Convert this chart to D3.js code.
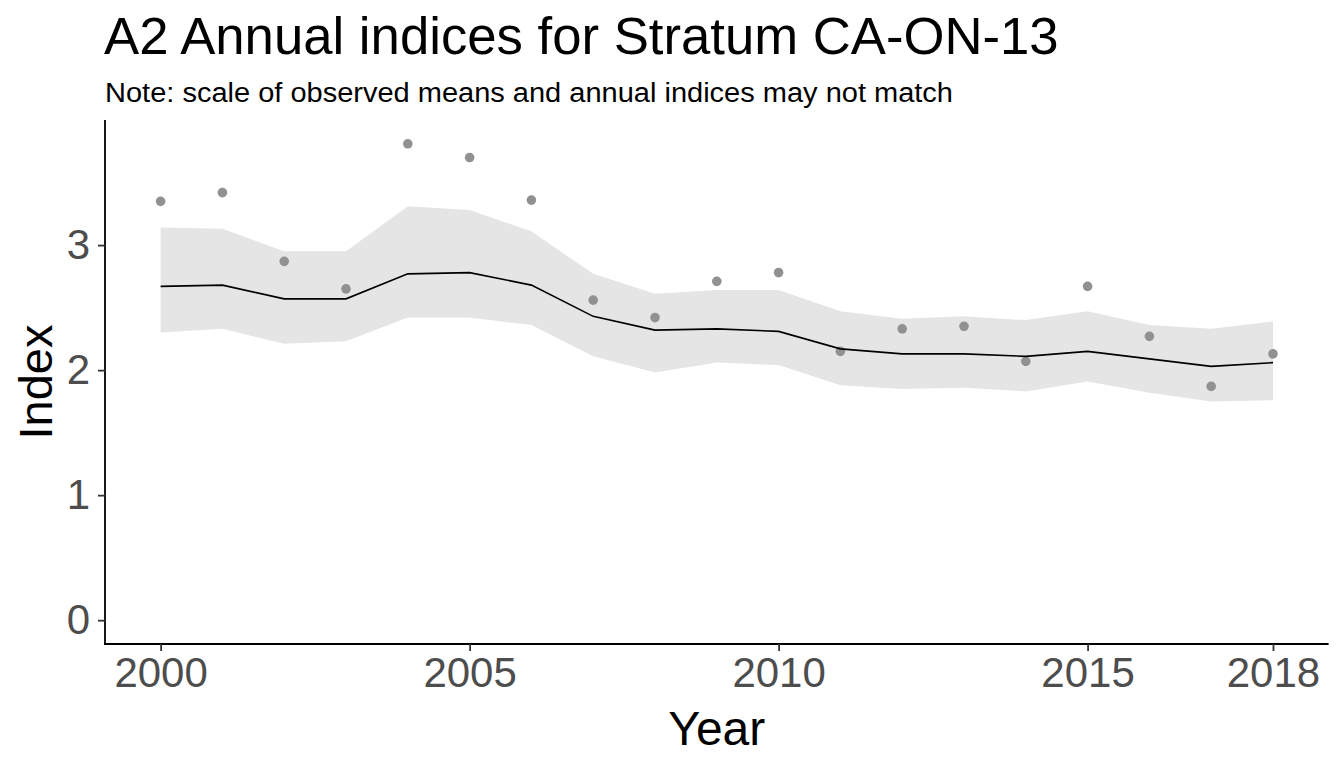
<!DOCTYPE html>
<html lang="en">
<head>
<meta charset="UTF-8">
<title>A2 Annual indices</title>
<script src="https://d3js.org/d3.v7.min.js"></script>
<style>
  body { margin: 0; padding: 0; background: #fff; }
  text { font-family: "Liberation Sans", Arial, sans-serif; }
</style>
</head>
<body>
<script>
// data
const years = [2000, 2001, 2002, 2003, 2004, 2005, 2006, 2007, 2008, 2009,
               2010, 2011, 2012, 2013, 2014, 2015, 2016, 2017, 2018];
const index = [2.67, 2.68, 2.57, 2.57, 2.77, 2.78, 2.68, 2.43, 2.32, 2.33,
               2.31, 2.17, 2.13, 2.13, 2.11, 2.15, 2.09, 2.03, 2.06];
const lower = [2.30, 2.33, 2.21, 2.23, 2.42, 2.42, 2.36, 2.11, 1.98, 2.06,
               2.04, 1.88, 1.85, 1.86, 1.83, 1.91, 1.82, 1.75, 1.76];
const upper = [3.14, 3.13, 2.95, 2.95, 3.31, 3.28, 3.11, 2.77, 2.61, 2.64,
               2.64, 2.47, 2.41, 2.43, 2.40, 2.47, 2.36, 2.33, 2.39];
const observed = [3.35, 3.42, 2.87, 2.65, 3.81, 3.70, 3.36, 2.56, 2.42, 2.71,
                  2.78, 2.15, 2.33, 2.35, 2.07, 2.67, 2.27, 1.87, 2.13];
const xTicks = [2000, 2005, 2010, 2015, 2018];
const yTicks = [0, 1, 2, 3];

const width = 1344, height = 768;
const plotL = 105, plotR = 1328.6, plotT = 120, plotB = 644;

const svg = d3.select("body").append("svg")
  .attr("width", width)
  .attr("height", height);

const x = d3.scaleLinear().domain([1999.1, 2018.9]).range([plotL, plotR]);
const y = d3.scaleLinear().domain([-0.1905, 4.0005]).range([plotB, plotT]);

const rows = years.map((yr, i) => ({
  year: yr, index: index[i], lo: lower[i], hi: upper[i], obs: observed[i]
}));

// ribbon
svg.append("path")
  .datum(rows)
  .attr("fill", "#e5e5e5")
  .attr("d", d3.area()
    .x(d => x(d.year))
    .y0(d => y(d.lo))
    .y1(d => y(d.hi)));

// observed means
svg.append("g").selectAll("circle")
  .data(rows)
  .join("circle")
  .attr("cx", d => x(d.year))
  .attr("cy", d => y(d.obs))
  .attr("r", 4.8)
  .attr("fill", "#919191");

// index line
svg.append("path")
  .datum(rows)
  .attr("fill", "none")
  .attr("stroke", "#000")
  .attr("stroke-width", 1.6)
  .attr("d", d3.line().x(d => x(d.year)).y(d => y(d.index)));

// axes
const xAxis = svg.append("g")
  .attr("transform", `translate(0,${plotB})`)
  .call(d3.axisBottom(x).tickValues(xTicks).tickFormat(d3.format("d"))
    .tickSize(7).tickPadding(6).tickSizeOuter(0));
const yAxis = svg.append("g")
  .attr("transform", `translate(${plotL},0)`)
  .call(d3.axisLeft(y).tickValues(yTicks).tickFormat(d3.format("d"))
    .tickSize(7).tickPadding(8).tickSizeOuter(0));

[xAxis, yAxis].forEach(g => {
  g.select(".domain").attr("stroke", "#000").attr("stroke-width", 1.8);
  g.selectAll(".tick line").attr("stroke", "#333").attr("stroke-width", 1.8);
  g.selectAll(".tick text")
    .attr("fill", "#4d4d4d")
    .style("font-size", "42px")
    .style("font-family", "'Liberation Sans', Arial, sans-serif");
});
xAxis.selectAll(".tick text").attr("dy", "0.71em");
// make the two axis lines meet at the corner
xAxis.select(".domain").attr("d", `M${plotL - 0.9},0H${plotR}`);
yAxis.select(".domain").attr("d", `M0,${plotT}V${plotB + 0.9}`);

// titles
svg.append("text")
  .attr("x", 104)
  .attr("y", 54)
  .style("font-size", "52.7px")
  .attr("fill", "#000")
  .text("A2 Annual indices for Stratum CA-ON-13");

svg.append("text")
  .attr("x", 105)
  .attr("y", 102)
  .style("font-size", "27px")
  .attr("textLength", 848)
  .attr("lengthAdjust", "spacingAndGlyphs")
  .attr("fill", "#000")
  .text("Note: scale of observed means and annual indices may not match");

svg.append("text")
  .attr("x", (plotL + plotR) / 2)
  .attr("y", 745)
  .attr("text-anchor", "middle")
  .style("font-size", "48px")
  .attr("fill", "#000")
  .text("Year");

svg.append("text")
  .attr("transform", `translate(52,${(plotT + plotB) / 2}) rotate(-90)`)
  .attr("text-anchor", "middle")
  .style("font-size", "47px")
  .attr("fill", "#000")
  .text("Index");
</script>
</body>
</html>
